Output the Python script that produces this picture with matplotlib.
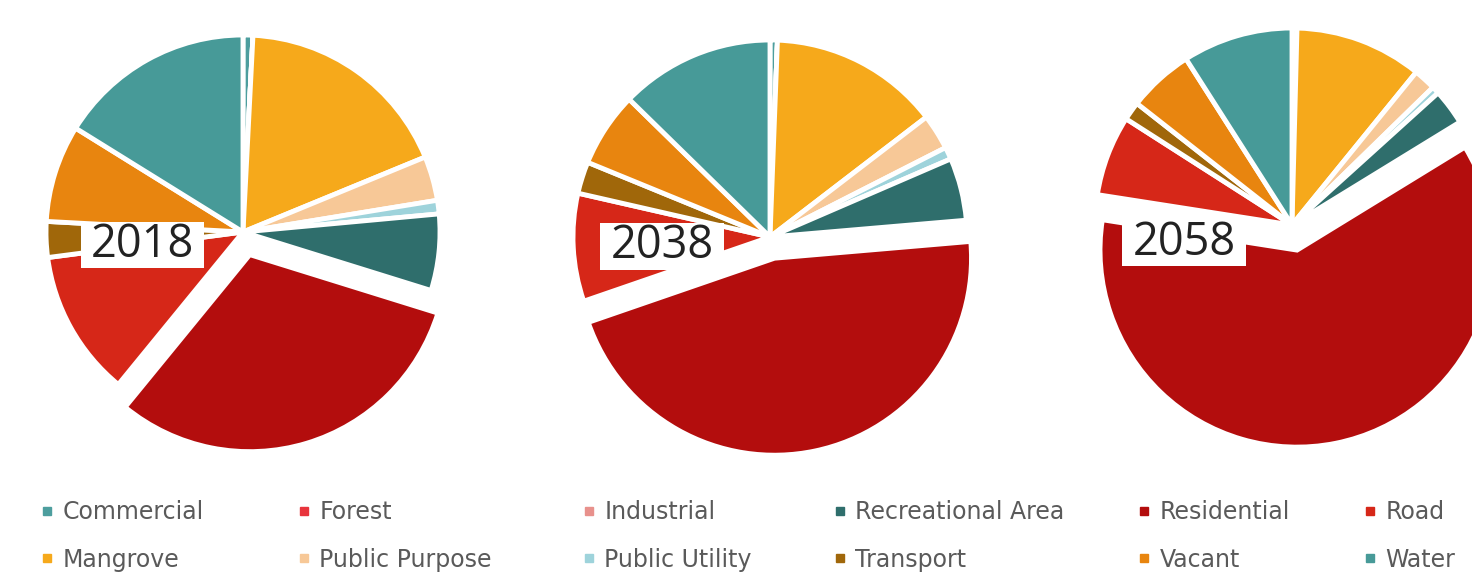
import matplotlib
matplotlib.use("Agg")
import matplotlib.pyplot as plt
from matplotlib.lines import Line2D

categories = ["Commercial", "Forest", "Industrial", "Mangrove", "Public Purpose",
              "Public Utility", "Recreational Area", "Residential", "Road",
              "Transport", "Vacant", "Water"]
colors = ["#4D9E9E", "#E8343C", "#E8918C", "#F6A91B", "#F7C897", "#9ED3DB",
          "#2F6E6C", "#B30D0D", "#D62718", "#A0670A", "#E8850F", "#479A98"]

years = ["2018", "2038", "2058"]
values_2018 = [0.8, 0.0, 0.0, 17.8, 3.6, 1.1, 6.2, 30.8, 11.9, 2.9, 7.9, 16.0]
values_2038 = [0.6, 0.0, 0.0, 13.9, 2.9, 1.0, 5.1, 45.8, 8.8, 2.6, 6.1, 12.6]
values_2058 = [0.4, 0.0, 0.0, 10.3, 1.8, 0.6, 2.9, 60.3, 6.5, 1.5, 5.3, 8.9]
all_values = [values_2018, values_2038, values_2058]

W, H = 1472, 576
fig = plt.figure(figsize=(W / 100, H / 100), dpi=100)
fig.patch.set_facecolor("white")

R = 197  # pie radius in pixels
centers = [(243, 232), (770, 237), (1292, 225)]  # pixel centres (from top)
label_offsets = [(-0.51, -0.066), (-0.548, -0.046), (-0.548, -0.091)]
explodes = [0.12, 0.11, 0.13]
lim = 1.25
size = 2 * lim * R

for vals, yr, (cx, cy), (lx, ly), ex in zip(all_values, years, centers, label_offsets, explodes):
    left = (cx - size / 2) / W
    bottom = ((H - cy) - size / 2) / H
    ax = fig.add_axes([left, bottom, size / W, size / H])
    explode = [ex if c == "Residential" else 0.0 for c in categories]
    wedges, _ = ax.pie(vals, colors=colors, startangle=90, counterclock=False,
                       explode=explode,
                       wedgeprops=dict(edgecolor="white", linewidth=3.5))
    ax.set_xlim(-lim, lim)
    ax.set_ylim(-lim, lim)
    ax.set_aspect("equal")
    ax.axis("off")
    ax.text(lx, ly, yr, ha="center", va="center", fontsize=32.5,
            family="Open Sans", color="#222222",
            bbox=dict(boxstyle="square,pad=0.22", facecolor="white",
                      edgecolor="none", mutation_aspect=0.05))

# Legend: 6 columns of 2 entries each
legend_cols = [("Commercial", "Mangrove"), ("Forest", "Public Purpose"),
               ("Industrial", "Public Utility"), ("Recreational Area", "Transport"),
               ("Residential", "Vacant"), ("Road", "Water")]
col_x = [40, 297, 582, 833, 1137, 1363]
for (a, b), x in zip(legend_cols, col_x):
    handles = []
    for name in (a, b):
        c = colors[categories.index(name)]
        handles.append(Line2D([], [], marker="s", linestyle="none", markersize=6,
                              markerfacecolor=c, markeredgecolor=c))
    leg = fig.legend(handles, [a, b], loc="upper left",
                     bbox_to_anchor=(x / W, 1 - 500 / H), frameon=False,
                     handlelength=0.6, handletextpad=0.35, labelspacing=1.0,
                     borderpad=0, borderaxespad=0,
                     prop=dict(family=["Liberation Sans Narrow", "DejaVu Sans"], size=17))
    for t in leg.get_texts():
        t.set_color("#5A5A5A")

fig.savefig("out.png", dpi=100, facecolor="white")
